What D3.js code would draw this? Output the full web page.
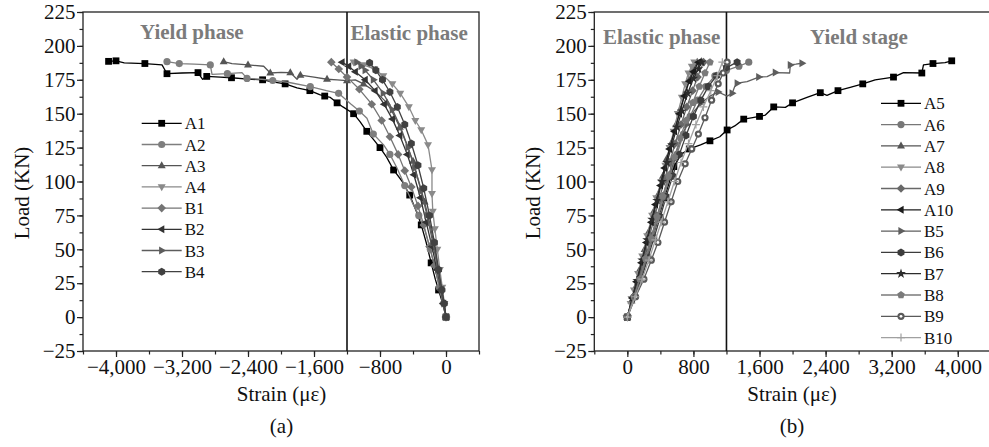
<!DOCTYPE html>
<html>
<head>
<meta charset="UTF-8">
<title>Load-strain curves</title>
<style>
  body { margin: 0; background: #fff; }
  svg text { font-family: "Liberation Serif", "Times New Roman", serif; }
</style>
</head>
<body>
<svg id="chart" width="989" height="447"></svg>
<script src="https://d3js.org/d3.v7.min.js"></script>
<script>
// ---- data: [strain (με), load (KN)] ----
const A1 = [[0,0],[-40,10],[-90,20],[-130,28],[-180,40],[-240,55],[-300,68],[-360,78],[-440,90],[-530,100],[-635,108.5],[-720,118],[-800,125],[-880,131],[-960,137],[-1040,144],[-1120,150],[-1249,155],[-1320,158],[-1402,162],[-1470,163],[-1532,164],[-1650,167],[-1806,169],[-1950,172],[-2100,173.5],[-2223,175],[-2400,175.5],[-2600,176.5],[-2736,177],[-2900,177.5],[-2950,175.4],[-3006,180.3],[-3200,180],[-3382,179.5],[-3442,186],[-3650,187],[-3900,187.5],[-4000,189],[-4090,188.6]];
const A2 = [[0,0],[-35,10],[-80,22],[-130,35],[-190,50],[-260,65],[-330,75],[-412,85],[-500,97],[-594,110],[-680,120],[-756,127],[-881,135],[-958,146.6],[-1050,152],[-1150,157],[-1302,165],[-1450,167],[-1645,170],[-1900,173],[-2100,174.5],[-2230,175.4],[-2412,176],[-2473,180.3],[-2650,179.5],[-2836,179],[-2857,186],[-3050,186.5],[-3233,187],[-3382,188.4]];
const A3 = [[0,0],[-25,10],[-60,22],[-100,38],[-150,55],[-200,70],[-260,85],[-330,100],[-400,115],[-480,128],[-560,140],[-640,150],[-715,158],[-850,166],[-1000,172],[-1100,175],[-1200,174.4],[-1320,175],[-1442,175.4],[-1600,177],[-1765,178.5],[-1806,175.4],[-1887,180.3],[-2000,180.5],[-2130,180],[-2210,185],[-2400,186],[-2594,187],[-2695,188.4]];
const A4 = [[0,0],[-20,10],[-45,22],[-75,35],[-105,50],[-135,65],[-160,78],[-170,91],[-170,108.5],[-218,127],[-300,138],[-372,145],[-450,155],[-554,165],[-650,172],[-760,178],[-870,183],[-1000,186],[-1120,188]];
const B1 = [[0,0],[-35,10],[-80,22],[-140,38],[-200,52],[-270,68],[-340,82],[-420,96],[-500,108],[-580,120],[-680,133],[-780,145],[-900,157],[-1050,168],[-1200,177],[-1300,183],[-1390,188]];
const B2 = [[0,0],[-30,10],[-60,20],[-110,35],[-170,52],[-240,70],[-310,88],[-390,105],[-470,120],[-560,134],[-650,146],[-750,157],[-860,167],[-980,175],[-1100,181],[-1180,185],[-1260,188]];
const B3 = [[0,0],[-25,10],[-55,20],[-100,35],[-160,55],[-230,75],[-300,93],[-380,110],[-460,125],[-550,140],[-650,153],[-760,165],[-880,175],[-980,182],[-1030,185],[-1080,188]];
const B4 = [[0,0],[-20,10],[-50,20],[-90,35],[-140,55],[-200,75],[-270,95],[-340,112],[-420,128],[-500,142],[-590,155],[-680,166],[-770,175],[-850,182],[-926,187.6]];

const A5 = [[0,0],[70,14],[150,28],[230,44],[300,58],[380,74],[450,88],[510,100],[563,111],[650,120],[750,124],[886,127],[1000,130],[1119,133],[1208,138],[1300,141],[1409,146],[1500,147],[1600,148],[1671,149],[1772,155],[1913,154.7],[2000,158],[2175,162],[2336,165.5],[2417,163.5],[2550,167],[2698,169.5],[2850,172],[3000,175],[3222,177],[3343,180.3],[3565,180],[3585,186],[3700,187],[3846,187.7],[3927,189]];
const A6 = [[0,0],[80,15],[160,28],[240,45],[310,60],[380,75],[450,90],[520,105],[600,120],[680,135],[760,148],[850,160],[950,170],[1060,178],[1200,182],[1350,185],[1470,188]];
const A7 = [[0,0],[50,12],[100,22],[150,35],[210,50],[260,63],[320,78],[370,90],[430,104],[480,117],[530,128],[590,142],[640,153],[690,164],[740,174],[790,182],[846,188]];
const A8 = [[0,0],[40,10],[80,20],[130,32],[180,45],[240,60],[300,75],[350,88],[410,100],[460,112],[510,125],[560,137],[610,150],[660,162],[700,172],[740,180],[780,185],[810,188]];
const A9 = [[0,0],[70,14],[130,27],[200,43],[260,58],[330,74],[390,88],[450,101],[510,114],[580,128],[650,142],[720,155],[790,167],[850,177],[922,188]];
const A10 = [[0,0],[60,14],[110,26],[170,40],[230,55],[290,70],[340,83],[400,97],[450,110],[510,124],[570,137],[630,150],[690,163],[750,174],[800,181],[860,188]];
const B5 = [[0,0],[75,14],[140,27],[210,42],[280,57],[350,72],[420,87],[490,102],[560,116],[640,130],[720,142],[810,152],[900,158],[1000,163],[1100,166],[1208,163],[1269,165],[1300,170],[1330,172.5],[1450,173.6],[1591,177],[1692,177.4],[1792,180.3],[1965,180],[1973,186],[2040,186.5],[2115,187.2]];
const B6 = [[0,0],[90,15],[170,28],[250,44],[320,58],[400,74],[470,89],[550,104],[630,120],[710,134],[800,148],[890,160],[980,170],[1080,178],[1200,184],[1329,188]];
const B7 = [[0,0],[60,14],[120,27],[180,42],[240,57],[300,72],[360,86],[420,100],[480,114],[540,127],[600,140],[660,152],[730,165],[800,176],[860,183],[900,188]];
const B8 = [[0,0],[80,15],[150,28],[220,43],[290,58],[360,74],[430,89],[500,104],[570,118],[640,132],[710,145],[790,158],[870,170],[940,180],[1000,188]];
const B9 = [[0,0],[100,15],[200,28],[290,42],[370,55],[450,70],[530,85],[610,100],[700,113],[780,124],[860,135],[940,147],[1020,160],[1100,172],[1160,180],[1208,188]];
const B10 = [[0,0],[95,15],[180,28],[260,42],[340,57],[410,70],[490,85],[570,100],[650,114],[740,128],[830,142],[920,155],[1010,167],[1090,178],[1150,188]];

const leftNames = ["A1","A2","A3","A4","B1","B2","B3","B4"];
const leftSeries = [A1, A2, A3, A4, B1, B2, B3, B4];
const rightNames = ["A5","A6","A7","A8","A9","A10","B5","B6","B7","B8","B9","B10"];
const rightSeries = [A5, A6, A7, A8, A9, A10, B5, B6, B7, B8, B9, B10];

const yTicks = d3.range(-25, 226, 25);
const yMinor = d3.range(-25, 226, 12.5);

// ---- styles ----
const style = {
  A1: {c: "#000", m: "square", every: 2},
  A2: {c: "#7e7e7e", m: "circle", every: 2},
  A3: {c: "#555", m: "up", every: 2},
  A4: {c: "#8a8a8a", m: "down", every: 1},
  B1: {c: "#747474", m: "diamond", every: 1},
  B2: {c: "#333", m: "left", every: 1},
  B3: {c: "#5c5c5c", m: "right", every: 1},
  B4: {c: "#414141", m: "hexagon", every: 1},
  A5: {c: "#000", m: "square", every: 2},
  A6: {c: "#777", m: "circle", every: 1},
  A7: {c: "#555", m: "up", every: 1},
  A8: {c: "#8a8a8a", m: "down", every: 1},
  A9: {c: "#686868", m: "diamond", every: 1},
  A10: {c: "#1c1c1c", m: "left", every: 1},
  B5: {c: "#5e5e5e", m: "right", every: 2},
  B6: {c: "#3c3c3c", m: "hexagon", every: 1},
  B7: {c: "#2c2c2c", m: "star", every: 1},
  B8: {c: "#7a7a7a", m: "pentagon", every: 1},
  B9: {c: "#5a5a5a", m: "dotcircle", every: 1},
  B10: {c: "#a0a0a0", m: "plus", every: 1}
};

const svg = d3.select("#chart");
const fmt = d3.format(",");

function polyPath(n, r, rot) {
  const pts = d3.range(n).map(i => {
    const a = rot + i * 2 * Math.PI / n;
    return [r * Math.cos(a), r * Math.sin(a)];
  });
  return "M" + pts.map(p => p.join(",")).join("L") + "Z";
}

function drawMarker(g, type, cx, cy, color) {
  const m = g.append("g").attr("transform", `translate(${cx},${cy})`);
  switch (type) {
    case "square": m.append("rect").attr("x", -3.4).attr("y", -3.4).attr("width", 6.8).attr("height", 6.8).attr("fill", color); break;
    case "circle": m.append("circle").attr("r", 3.6).attr("fill", color); break;
    case "up": m.append("path").attr("d", "M0,-4.4L4,2.6L-4,2.6Z").attr("fill", color); break;
    case "down": m.append("path").attr("d", "M0,4.4L4,-2.6L-4,-2.6Z").attr("fill", color); break;
    case "left": m.append("path").attr("d", "M-4.4,0L2.6,-4L2.6,4Z").attr("fill", color); break;
    case "right": m.append("path").attr("d", "M4.4,0L-2.6,-4L-2.6,4Z").attr("fill", color); break;
    case "diamond": m.append("path").attr("d", "M0,-4.3L4.3,0L0,4.3L-4.3,0Z").attr("fill", color); break;
    case "hexagon": m.append("path").attr("d", polyPath(6, 4, Math.PI / 6)).attr("fill", color); break;
    case "pentagon": m.append("path").attr("d", polyPath(5, 4, -Math.PI / 2)).attr("fill", color); break;
    case "star": m.append("path").attr("d", d3.symbol(d3.symbolStar, 30)()).attr("fill", color); break;
    case "dotcircle":
      m.append("circle").attr("r", 3.6).attr("fill", color);
      m.append("circle").attr("r", 1.4).attr("fill", "#fff");
      break;
    case "plus": m.append("path").attr("d", "M-4,0H4M0,-4V4").attr("stroke", color).attr("stroke-width", 1.2); break;
  }
}

function drawPanel(cfg) {
  const x = d3.scaleLinear().domain(cfg.xDomain).range(cfg.xRange);
  const y = d3.scaleLinear().domain([-25, 225]).range([351, 12]);
  const g = svg.append("g");

  // axes
  const ya = g.append("g").attr("transform", `translate(${cfg.xRange[0]},0)`)
    .call(d3.axisLeft(y).tickValues(yTicks).tickSize(6).tickPadding(1.5).tickFormat(fmt));
  g.append("g").attr("transform", `translate(${cfg.xRange[0]},0)`)
    .call(d3.axisLeft(y).tickValues(yMinor).tickSize(3.5).tickFormat(""));
  const xa = g.append("g").attr("transform", "translate(0,351)")
    .call(d3.axisBottom(x).tickValues(cfg.xTicks).tickSize(6).tickPadding(2).tickFormat(fmt));
  g.append("g").attr("transform", "translate(0,351)")
    .call(d3.axisBottom(x).tickValues(cfg.xMinor).tickSize(3.5).tickFormat(""));
  g.selectAll(".domain").remove();
  g.selectAll(".tick line").attr("stroke", "#222").attr("stroke-width", 1.2);
  g.selectAll(".tick text").attr("font-size", 21).attr("fill", "#111")
    .attr("font-family", "'Liberation Serif', serif");

  // frame
  g.append("rect")
    .attr("x", cfg.xRange[0]).attr("y", 12)
    .attr("width", cfg.xRange[1] - cfg.xRange[0]).attr("height", 339)
    .attr("fill", "none").attr("stroke", "#222").attr("stroke-width", 1.3);

  // divider
  g.append("line")
    .attr("x1", x(cfg.divider)).attr("x2", x(cfg.divider))
    .attr("y1", 12).attr("y2", 351)
    .attr("stroke", "#111").attr("stroke-width", 1.6);

  // phase labels
  cfg.phases.forEach(p => {
    g.append("text").attr("x", p.x).attr("y", p.y).text(p.text)
      .attr("font-size", 21).attr("font-weight", "bold").attr("fill", "#7b7b7b");
  });

  // series
  const line = d3.line().x(d => x(d[0])).y(d => y(d[1]));
  cfg.names.forEach((name, i) => {
    const s = style[name];
    const data = cfg.series[i];
    g.append("path").datum(data).attr("d", line)
      .attr("fill", "none").attr("stroke", s.c).attr("stroke-width", 1.3)
      .attr("stroke-linejoin", "round");
    const mg = g.append("g");
    data.forEach((d, j) => {
      if (j % s.every === 0 || j === data.length - 1) drawMarker(mg, s.m, x(d[0]), y(d[1]), s.c);
    });
  });

  // legend
  cfg.names.forEach((name, i) => {
    const s = style[name];
    const ly = cfg.legend.y + i * cfg.legend.step;
    g.append("line").attr("x1", cfg.legend.x).attr("x2", cfg.legend.x + 40)
      .attr("y1", ly).attr("y2", ly).attr("stroke", s.c).attr("stroke-width", 1.3);
    drawMarker(g, s.m, cfg.legend.x + 20, ly, s.c);
    g.append("text").attr("x", cfg.legend.x + 43).attr("y", ly + 6)
      .attr("font-size", 17).attr("fill", "#111").text(name);
  });

  // titles
  const cx = (cfg.xRange[0] + Math.min(cfg.xRange[1], 989)) / 2;
  g.append("text").attr("x", cfg.titleX).attr("y", 401).attr("text-anchor", "middle")
    .attr("font-size", 21).attr("fill", "#111").text("Strain (με)");
  g.append("text").attr("x", cfg.titleX).attr("y", 433).attr("text-anchor", "middle")
    .attr("font-size", 21).attr("fill", "#111").text(cfg.caption);
  g.append("text").attr("transform", `translate(${cfg.yLabelX},193) rotate(-90)`)
    .attr("text-anchor", "middle").attr("font-size", 21).attr("fill", "#111").text("Load (KN)");
}

drawPanel({
  xDomain: [-4400, 400], xRange: [83, 479],
  xTicks: d3.range(-4000, 1, 800), xMinor: d3.range(-4400, 401, 400),
  divider: -1200,
  phases: [{text: "Yield phase", x: 140, y: 39}, {text: "Elastic phase", x: 350.5, y: 40}],
  names: leftNames, series: leftSeries,
  legend: {x: 141.7, y: 123.3, step: 21.2},
  titleX: 281.5, caption: "(a)", yLabelX: 29
});

drawPanel({
  xDomain: [-400, 4400], xRange: [594.3, 990.8],
  xTicks: d3.range(0, 4001, 800), xMinor: d3.range(-400, 4401, 400),
  divider: 1200,
  phases: [{text: "Elastic phase", x: 603, y: 44}, {text: "Yield stage", x: 810, y: 44}],
  names: rightNames, series: rightSeries,
  legend: {x: 881, y: 103.3, step: 21.3},
  titleX: 792, caption: "(b)", yLabelX: 540
});
</script>
</body>
</html>
